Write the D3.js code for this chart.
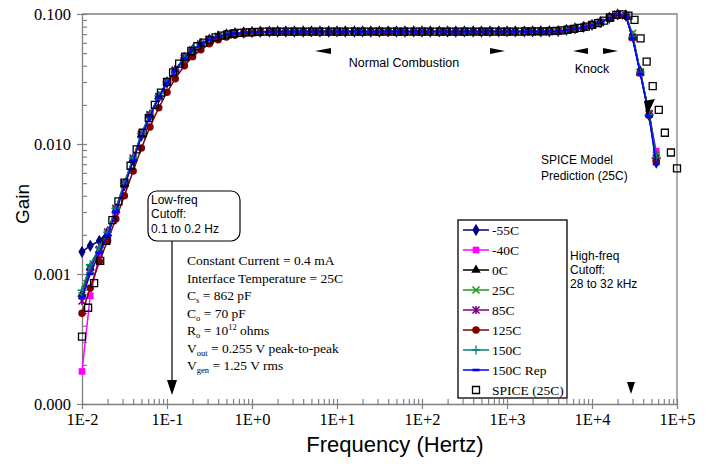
<!DOCTYPE html>
<html><head><meta charset="utf-8">
<script src="https://cdn.jsdelivr.net/npm/d3@7"></script>
<style>body{margin:0;background:#fff} svg{display:block}</style>
</head><body>
<svg id="chart" width="711" height="472"></svg>
<script>
// ---------- DATA ----------
const seriesNames = ["-55C","-40C","0C","25C","85C","125C","150C","150C Rep"];
const spiceName = "SPICE (25C)";
const measMantissa = [1,1.25,1.6,2,2.5,3.15,4,5,6.3,8];
const measDecades = [0.01,0.1,1,10,100,1000];
const measHigh = [10000,12500,16000,20000,25000,30000,37000,47000,57000];
const spiceMantissa = [1,1.179,1.389,1.638,1.931,2.276,2.683,3.162,3.728,4.394,5.179,6.105,7.197,8.483];
const spiceDecades = [0.01,0.1,1,10,100,1000,10000];
const spiceLast = [100000];

const gainM55 = [
 0.00148,0.00165,0.0018,0.0021,0.003,0.0048,0.0075,0.0116,0.0165,0.0229,
 0.0297,0.0367,0.0457,0.0527,0.0585,0.0636,0.0671,0.0696,0.0711,0.0721,
 0.0727,0.073,0.0732,0.0733,0.0734,0.0734,0.0734,0.0735,0.0734,0.0734,
 0.0735,0.0734,0.0734,0.0735,0.0734,0.0734,0.0735,0.0734,0.0734,0.0735,
 0.0734,0.0734,0.0735,0.0734,0.0734,0.0735,0.0734,0.0734,0.0735,0.0735,
 0.0735,0.0735,0.0735,0.0736,0.0736,0.0737,0.0739,0.0754,0.0775,0.0796,
 0.0825,0.0866,0.0935,0.0993,0.0975,0.0672,0.0362,0.0166,0.0072];
const gainM40 = [
 0.000178,0.00068,0.0014,0.00195,0.003,0.0048,0.0076,0.0117,0.0167,0.0231,
 0.0299,0.0369,0.0459,0.0529,0.0586,0.0637,0.0671,0.0696,0.0711,0.0721,
 0.0727,0.073,0.0732,0.0733,0.0733,0.0734,0.0734,0.0734,0.0734,0.0734,
 0.0734,0.0734,0.0734,0.0734,0.0734,0.0734,0.0734,0.0735,0.0734,0.0734,
 0.0734,0.0735,0.0734,0.0734,0.0734,0.0734,0.0735,0.0734,0.0734,0.0734,
 0.0734,0.0734,0.0735,0.0735,0.0736,0.0737,0.0738,0.0752,0.0773,0.0795,
 0.0826,0.0866,0.0936,0.0995,0.0978,0.0655,0.0352,0.0168,0.0088];
const gain0C = [
 0.0007,0.00112,0.00152,0.00205,0.0031,0.0049,0.0077,0.0118,0.0168,0.0232,
 0.03,0.037,0.046,0.053,0.0587,0.0637,0.0671,0.0696,0.0711,0.0721,
 0.0727,0.073,0.0731,0.0732,0.0733,0.0733,0.0733,0.0734,0.0733,0.0733,
 0.0733,0.0734,0.0733,0.0733,0.0733,0.0734,0.0733,0.0733,0.0733,0.0734,
 0.0733,0.0733,0.0734,0.0733,0.0733,0.0733,0.0734,0.0733,0.0733,0.0733,
 0.0733,0.0733,0.0734,0.0734,0.0735,0.0736,0.0737,0.0751,0.0771,0.0792,
 0.0822,0.0862,0.093,0.099,0.0972,0.0668,0.0355,0.0172,0.008];
const gain25C = [
 0.00068,0.00108,0.0015,0.002,0.0031,0.0049,0.0076,0.0117,0.0166,0.023,
 0.0298,0.0368,0.0458,0.0528,0.0585,0.0636,0.067,0.0695,0.071,0.072,
 0.0726,0.0729,0.0731,0.0732,0.0732,0.0733,0.0733,0.0733,0.0733,0.0733,
 0.0733,0.0733,0.0733,0.0732,0.0733,0.0733,0.0733,0.0733,0.0732,0.0733,
 0.0733,0.0733,0.0733,0.0733,0.0732,0.0733,0.0733,0.0733,0.0733,0.0733,
 0.0733,0.0733,0.0733,0.0733,0.0734,0.0735,0.0737,0.0752,0.0772,0.0793,
 0.0821,0.0861,0.0929,0.0989,0.0972,0.071,0.0358,0.0172,0.0082];
const gain85C = [
 0.00062,0.00112,0.00155,0.0021,0.0032,0.005,0.0078,0.0119,0.0168,0.0232,
 0.03,0.037,0.046,0.053,0.0587,0.0637,0.0671,0.0696,0.0711,0.0721,
 0.0727,0.073,0.0732,0.0733,0.0733,0.0733,0.0734,0.0733,0.0733,0.0733,
 0.0734,0.0733,0.0733,0.0733,0.0734,0.0733,0.0733,0.0733,0.0734,0.0733,
 0.0733,0.0733,0.0734,0.0733,0.0733,0.0733,0.0734,0.0733,0.0733,0.0733,
 0.0734,0.0734,0.0734,0.0734,0.0735,0.0736,0.0738,0.0753,0.0774,0.0794,
 0.0823,0.0863,0.0932,0.0991,0.0974,0.0665,0.0356,0.017,0.0078];
const gain125C = [
 0.0005,0.00078,0.00125,0.0018,0.00265,0.004,0.0062,0.0093,0.0135,0.019,
 0.025,0.0318,0.04,0.047,0.053,0.059,0.0635,0.0665,0.069,0.0705,
 0.0715,0.0722,0.0727,0.073,0.0731,0.0732,0.0732,0.0732,0.0733,0.0732,
 0.0732,0.0732,0.0733,0.0732,0.0732,0.0732,0.0733,0.0732,0.0732,0.0732,
 0.0732,0.0733,0.0732,0.0732,0.0732,0.0733,0.0732,0.0732,0.0732,0.0733,
 0.0732,0.0732,0.0733,0.0733,0.0734,0.0735,0.0736,0.075,0.077,0.0791,
 0.082,0.086,0.0928,0.0988,0.097,0.0662,0.0352,0.0166,0.0074];
const gain150C = [
 0.00075,0.00118,0.0016,0.0021,0.0032,0.005,0.0078,0.012,0.017,0.0234,
 0.0302,0.0372,0.0461,0.0531,0.0588,0.0638,0.0672,0.0697,0.0712,0.0722,
 0.0728,0.0731,0.0733,0.0733,0.0734,0.0734,0.0734,0.0733,0.0734,0.0734,
 0.0734,0.0733,0.0734,0.0734,0.0734,0.0733,0.0734,0.0734,0.0734,0.0733,
 0.0734,0.0734,0.0733,0.0734,0.0734,0.0734,0.0733,0.0734,0.0734,0.0734,
 0.0733,0.0734,0.0734,0.0734,0.0735,0.0736,0.0738,0.0752,0.0773,0.0794,
 0.0823,0.0864,0.0933,0.0992,0.0975,0.0668,0.0357,0.0169,0.0079];
const gain150CRep = [
 0.00066,0.001,0.00145,0.00198,0.003,0.0047,0.0074,0.0114,0.0163,0.0227,
 0.0295,0.0365,0.0455,0.0525,0.0583,0.0634,0.0669,0.0694,0.0709,0.0719,
 0.0725,0.0728,0.073,0.0731,0.0732,0.0732,0.0732,0.0732,0.0732,0.0732,
 0.0732,0.0732,0.0732,0.0732,0.0732,0.0732,0.0732,0.0732,0.0732,0.0732,
 0.0732,0.0732,0.0732,0.0732,0.0732,0.0732,0.0732,0.0732,0.0732,0.0732,
 0.0732,0.0732,0.0732,0.0733,0.0733,0.0734,0.0736,0.075,0.077,0.0791,
 0.082,0.0859,0.0927,0.0986,0.0968,0.0648,0.0346,0.0163,0.007];
const gainSpice = [
 0.00033,0.00055,0.00085,0.00126,0.0018,0.0026,0.00362,0.00505,0.0068,0.0091,0.0122,0.0158,0.02,0.0248,
 0.03,0.0356,0.0415,0.047,0.0517,0.0565,0.0602,0.0631,0.0662,0.0681,0.0698,0.0708,0.0716,0.0722,
 0.0726,0.0729,0.0731,0.0732,0.0733,0.0733,0.0733,0.0733,0.0733,0.0733,0.0733,0.0733,0.0733,0.0733,
 0.0733,0.0733,0.0733,0.0733,0.0733,0.0733,0.0733,0.0733,0.0733,0.0733,0.0733,0.0733,0.0733,0.0733,
 0.0733,0.0733,0.0733,0.0733,0.0733,0.0733,0.0733,0.0733,0.0733,0.0733,0.0733,0.0733,0.0733,0.0733,
 0.0733,0.0733,0.0733,0.0734,0.0734,0.0735,0.0736,0.0738,0.0742,0.0748,0.0757,0.0768,0.0782,0.08,
 0.0825,0.085,0.089,0.094,0.0985,0.0995,0.097,0.09,0.065,0.043,0.0279,0.0183,0.0122,0.0086,
 0.0065];

const xTickValues = [0.01,0.1,1,10,100,1000,10000,100000];
const xTickLabels = ["1E-2","1E-1","1E+0","1E+1","1E+2","1E+3","1E+4","1E+5"];
const yTickValues = [0.0001,0.001,0.01,0.1];
const yTickLabels = ["0.000","0.001","0.010","0.100"];

// ---------- BUILD ----------
const measFreq = measDecades.flatMap(d => measMantissa.map(m => +(d*m).toPrecision(4))).concat(measHigh);
const spiceFreq = spiceDecades.flatMap(d => spiceMantissa.map(m => +(d*m).toPrecision(4))).concat(spiceLast);
const gains = [gainM55,gainM40,gain0C,gain25C,gain85C,gain125C,gain150C,gain150CRep];

const styles = [
 {color:"#000080", marker:"diamond"},
 {color:"#ff00ff", marker:"square"},
 {color:"#000000", marker:"triangle"},
 {color:"#1f9a1f", marker:"times"},
 {color:"#800080", marker:"asterisk"},
 {color:"#800000", marker:"circle"},
 {color:"#008080", marker:"plus"},
 {color:"#0000ff", marker:"dash"}
];

const svg = d3.select("#chart");
const L=82, R=677, T=14, B=404;
const x = d3.scaleLog().domain([0.01,1e5]).range([L,R]);
const y = d3.scaleLog().domain([1e-4,0.1]).range([B,T]);
const axisColor = "#808080";
const serif = "'Liberation Serif','Times New Roman',serif";
const sans = "'Liberation Sans',Arial,sans-serif";

// frame (top/right)
svg.append("path").attr("d",`M${L},${T}H${R}V${B}`).attr("fill","none").attr("stroke",axisColor).attr("stroke-width",1.3);

// minor ticks
const xMinor = xTickValues.slice(0,-1).flatMap(d=>[2,3,4,5,6,7,8,9].map(m=>d*m));
const yMinor = yTickValues.slice(0,-1).flatMap(d=>[2,3,4,5,6,7,8,9].map(m=>d*m));
svg.append("g").attr("transform",`translate(0,${B})`)
  .call(d3.axisBottom(x).tickValues(xMinor).tickFormat("").tickSizeInner(-5).tickSizeOuter(0))
  .call(g=>{g.select(".domain").remove(); g.selectAll("line").attr("stroke",axisColor).attr("stroke-width",1.2);});
svg.append("g").attr("transform",`translate(${L},0)`)
  .call(d3.axisLeft(y).tickValues(yMinor).tickFormat("").tickSizeInner(-5).tickSizeOuter(0))
  .call(g=>{g.select(".domain").remove(); g.selectAll("line").attr("stroke",axisColor).attr("stroke-width",1.2);});

// major axes
const gx = svg.append("g").attr("transform",`translate(0,${B})`)
  .call(d3.axisBottom(x).tickValues(xTickValues).tickFormat((d,i)=>xTickLabels[i]).tickSizeInner(5).tickSizeOuter(0));
gx.select(".domain").attr("stroke",axisColor).attr("stroke-width",1.3);
gx.selectAll(".tick line").attr("y1",-5).attr("y2",5).attr("stroke",axisColor).attr("stroke-width",1.2);
gx.selectAll(".tick text").attr("y",21).attr("dy",0).attr("font-family",serif).attr("font-size",16.5).attr("fill","#000");

const gy = svg.append("g").attr("transform",`translate(${L},0)`)
  .call(d3.axisLeft(y).tickValues(yTickValues).tickFormat((d,i)=>yTickLabels[i]).tickSizeInner(5).tickSizeOuter(0));
gy.select(".domain").attr("stroke",axisColor).attr("stroke-width",1.3);
gy.selectAll(".tick line").attr("x1",-5).attr("x2",5).attr("stroke",axisColor).attr("stroke-width",1.2);
gy.selectAll(".tick text").attr("x",-11).attr("dy","0.35em").attr("font-family",serif).attr("font-size",16.5).attr("fill","#000");

// axis titles
svg.append("text").attr("x",395).attr("y",452).attr("text-anchor","middle")
  .attr("font-family",sans).attr("font-size",22).text("Frequency (Hertz)");
svg.append("text").attr("transform","translate(29,204) rotate(-90)").attr("text-anchor","middle")
  .attr("font-family",sans).attr("font-size",19).text("Gain");

// markers
function markerPath(type){
  switch(type){
    case "diamond": return {d:d3.symbol(d3.symbolDiamond,44)(), fill:true};
    case "square": return {d:d3.symbol(d3.symbolSquare,44)(), fill:true};
    case "triangle": return {d:d3.symbol(d3.symbolTriangle,38)(), fill:true};
    case "circle": return {d:d3.symbol(d3.symbolCircle,44)(), fill:true};
    case "times": return {d:"M-3.5,-3.5L3.5,3.5M-3.5,3.5L3.5,-3.5", fill:false, w:1.6};
    case "asterisk": return {d:"M-3.5,-3.5L3.5,3.5M-3.5,3.5L3.5,-3.5M0,-4V4", fill:false, w:1.6};
    case "plus": return {d:"M-4.5,0H4.5M0,-4.5V4.5", fill:false, w:1.3};
    case "dash": return {d:"M-3.5,0H3.5", fill:false, w:2.6};
    case "openSquare": return {d:"M-3.5,-3.5H3.5V3.5H-3.5Z", fill:false, w:1.3};
  }
}
function addMarker(g, type, color, cx, cy){
  const m = markerPath(type);
  g.append("path").attr("d",m.d).attr("transform",`translate(${cx},${cy})`)
    .attr("fill", m.fill?color:"none").attr("stroke", m.fill?"none":color).attr("stroke-width", m.w||0);
}

const line = d3.line().x(d=>x(d.f)).y(d=>y(d.g));
const plot = svg.append("g");
seriesNames.forEach((name,i)=>{
  const pts = measFreq.map((f,j)=>({f, g:gains[i][j]}));
  const st = styles[i];
  const g = plot.append("g");
  g.append("path").datum(pts).attr("d",line).attr("fill","none").attr("stroke",st.color).attr("stroke-width",1.5);
  pts.forEach(p=>addMarker(g, st.marker, st.color, x(p.f), y(p.g)));
});
const sg = plot.append("g");
spiceFreq.forEach((f,j)=>addMarker(sg,"openSquare","#000",x(f),y(gainSpice[j])));

// legend
const lg = svg.append("g");
lg.append("rect").attr("x",458).attr("y",220).attr("width",109).attr("height",178)
  .attr("fill","#fff").attr("stroke","#000").attr("stroke-width",1.3);
seriesNames.concat([spiceName]).forEach((name,i)=>{
  const cy = 230 + i*20;
  if(i<seriesNames.length){
    lg.append("line").attr("x1",463).attr("x2",489).attr("y1",cy).attr("y2",cy)
      .attr("stroke",styles[i].color).attr("stroke-width",1.5);
    addMarker(lg, styles[i].marker, styles[i].color, 476, cy);
  } else {
    addMarker(lg, "openSquare", "#000", 476, cy);
  }
  lg.append("text").attr("x",492).attr("y",cy).attr("dy","0.35em")
    .attr("font-family",serif).attr("font-size",13.5).text(name);
});

// annotations
const ann = svg.append("g");
ann.append("rect").attr("x",148).attr("y",191).attr("width",92).attr("height",50).attr("rx",9)
  .attr("fill","#fff").attr("stroke","#000").attr("stroke-width",1.2);
["Low-freq","Cutoff:","0.1 to 0.2 Hz"].forEach((t,i)=>
  ann.append("text").attr("x",151).attr("y",203.5+i*14.5).attr("font-family",sans).attr("font-size",12).text(t));
ann.append("line").attr("x1",172).attr("x2",172).attr("y1",241).attr("y2",382).attr("stroke","#000").attr("stroke-width",1.2);
ann.append("path").attr("d","M167,380L177,380L172,395Z").attr("fill","#000");

const paramLines = [
 [{t:"Constant Current = 0.4 mA"}],
 [{t:"Interface Temperature = 25C"}],
 [{t:"C"},{t:"s",sub:1},{t:" = 862 pF"}],
 [{t:"C"},{t:"o",sub:1},{t:" = 70 pF"}],
 [{t:"R"},{t:"o",sub:1},{t:" = 10"},{t:"12",sup:1},{t:" ohms"}],
 [{t:"V"},{t:"out",sub:1},{t:" = 0.255 V peak-to-peak"}],
 [{t:"V"},{t:"gen",sub:1},{t:" = 1.25 V rms"}]
];
paramLines.forEach((segs,i)=>{
  const tx = ann.append("text").attr("x",187).attr("y",265+i*17.5).attr("font-family",serif).attr("font-size",13.5);
  let shift=0;
  segs.forEach(s=>{
    let target = s.sub?3:(s.sup?-5:0);
    tx.append("tspan").attr("dy",target-shift).attr("font-size",(s.sub||s.sup)?8.5:13.5).text(s.t);
    shift=target;
  });
});

ann.append("text").attr("x",404).attr("y",67).attr("text-anchor","middle").attr("font-family",sans).attr("font-size",12.5).text("Normal Combustion");
ann.append("text").attr("x",592).attr("y",73).attr("text-anchor","middle").attr("font-family",sans).attr("font-size",12.5).text("Knock");
[["M315,51L331,48L331,54Z"],["M505,51L490,48L490,54Z"],["M573,51L588,48L588,54Z"],["M618,51L603,48L603,54Z"]]
  .forEach(p=>ann.append("path").attr("d",p[0]).attr("fill","#000"));

ann.append("text").attr("x",541).attr("y",164).attr("font-family",sans).attr("font-size",12).text("SPICE Model");
ann.append("text").attr("x",541).attr("y",180).attr("font-family",sans).attr("font-size",12).text("Prediction (25C)");
ann.append("path").attr("d","M647,116L644,101L655,99Z").attr("fill","#000");

["High-freq","Cutoff:","28 to 32 kHz"].forEach((t,i)=>
  ann.append("text").attr("x",570).attr("y",260+i*14).attr("font-family",sans).attr("font-size",12).text(t));
ann.append("path").attr("d","M627,382L635,382L631,394Z").attr("fill","#000");
</script>
</body></html>
